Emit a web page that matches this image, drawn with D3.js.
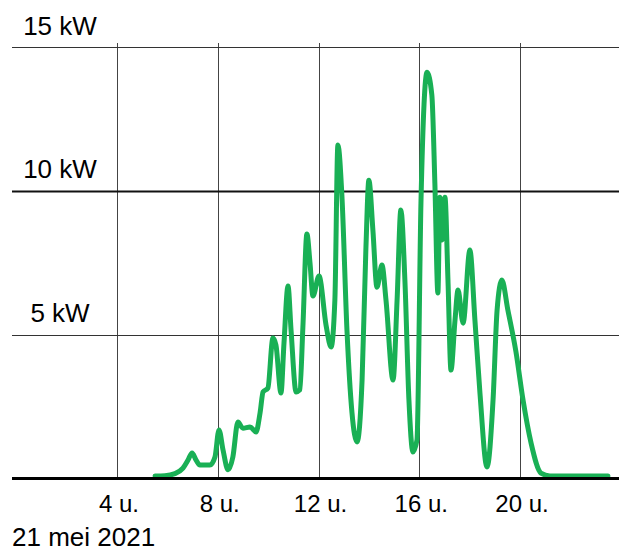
<!DOCTYPE html>
<html>
<head>
<meta charset="utf-8">
<script src="https://cdn.jsdelivr.net/npm/d3@7"></script>
<style>
  body { margin: 0; background: #fff; }
  svg { display: block; font-family: "Liberation Sans", Arial, sans-serif; }
</style>
</head>
<body>
<svg width="619" height="551"></svg>
<script>
// hour of day
const hours = [5.51, 5.90, 6.30, 6.62, 6.82, 6.98, 7.14, 7.29, 7.69, 7.89, 8.05, 8.21, 8.41, 8.60, 8.80, 9.00,
  9.28, 9.52, 9.68, 9.80, 9.99, 10.19, 10.31, 10.51, 10.63, 10.79, 10.91, 11.11, 11.26, 11.38, 11.54, 11.66,
  11.78, 12.02, 12.30, 12.50, 12.65, 12.77, 12.93, 13.13, 13.33, 13.53, 13.73, 13.88, 14.00, 14.16, 14.32,
  14.52, 14.68, 14.96, 15.12, 15.27, 15.43, 15.59, 15.75, 15.91, 16.07, 16.31, 16.50, 16.62, 16.74, 16.82,
  16.90, 17.02, 17.14, 17.26, 17.42, 17.54, 17.74, 18.01, 18.21, 18.41, 18.69, 18.93, 19.09, 19.28, 19.52,
  19.84, 20.12, 20.44, 20.83, 21.19, 23.49];
// power in kW
const power = [0.09, 0.10, 0.17, 0.36, 0.64, 0.89, 0.64, 0.47, 0.47, 0.75, 1.69, 0.99, 0.30, 0.75, 1.96, 1.75,
  1.79, 1.62, 2.28, 3.01, 3.14, 4.88, 4.64, 2.97, 4.71, 6.69, 5.16, 3.01, 3.08, 5.26, 8.50, 7.52,
  6.34, 7.04, 5.33, 4.57, 6.20, 11.59, 9.82, 5.16, 2.28, 1.27, 3.42, 7.94, 10.37, 8.63, 6.65,
  7.42, 6.20, 3.42, 6.20, 9.33, 6.90, 2.73, 0.92, 1.34, 9.68, 14.12, 13.33, 10.27, 6.45, 9.78,
  8.29, 9.78, 6.90, 3.77, 5.51, 6.55, 5.40, 7.94, 5.51, 2.97, 0.40, 2.73, 5.85, 6.90, 5.85,
  4.40, 2.73, 1.23, 0.19, 0.09, 0.09];

const xTicks = [4, 8, 12, 16, 20];
const yTicks = [5, 10, 15];
const dateLabel = "21 mei 2021";

const svg = d3.select("svg");
const width = +svg.attr("width");

const x = d3.scaleLinear().domain([0, 24]).range([16.25, 620.75]);
const y = d3.scaleLinear().domain([0, 15]).range([478.5, 47]);

// vertical grid
svg.selectAll("line.vgrid")
  .data(xTicks)
  .enter()
  .append("line")
  .attr("x1", (d) => Math.round(x(d)) + 0.5)
  .attr("x2", (d) => Math.round(x(d)) + 0.5)
  .attr("y1", 43)
  .attr("y2", y(0))
  .attr("stroke", "#444")
  .attr("stroke-width", 1);

// horizontal grid, 10 kW line is heavier
svg.selectAll("line.hgrid")
  .data(yTicks)
  .enter()
  .append("line")
  .attr("x1", 12)
  .attr("x2", width)
  .attr("y1", (d) => Math.round(y(d)) + 0.5)
  .attr("y2", (d) => Math.round(y(d)) + 0.5)
  .attr("stroke", (d) => (d === 10 ? "#111" : "#333"))
  .attr("stroke-width", (d) => (d === 10 ? 2 : 1));

// the power curve
const line = d3.line()
  .x((d, i) => x(hours[i]))
  .y((d) => y(d))
  .curve(d3.curveMonotoneX);

svg.append("path")
  .datum(power)
  .attr("d", line)
  .attr("fill", "none")
  .attr("stroke", "#19b055")
  .attr("stroke-width", 5)
  .attr("stroke-linejoin", "round")
  .attr("stroke-linecap", "round");

// baseline
svg.append("line")
  .attr("x1", 12)
  .attr("x2", width)
  .attr("y1", y(0))
  .attr("y2", y(0))
  .attr("stroke", "#000")
  .attr("stroke-width", 3);

// y labels
svg.selectAll("text.ylab")
  .data(yTicks)
  .enter()
  .append("text")
  .attr("x", 60)
  .attr("y", (d) => y(d) - 12.5)
  .attr("text-anchor", "middle")
  .attr("font-size", 26)
  .text((d) => d + " kW");

// x labels
svg.selectAll("text.xlab")
  .data(xTicks)
  .enter()
  .append("text")
  .attr("x", (d) => x(d) + 2)
  .attr("y", 512)
  .attr("text-anchor", "middle")
  .attr("font-size", 24)
  .text((d) => d + " u.");

svg.append("text")
  .attr("x", 12)
  .attr("y", 546)
  .attr("font-size", 26)
  .text(dateLabel);
</script>
</body>
</html>
